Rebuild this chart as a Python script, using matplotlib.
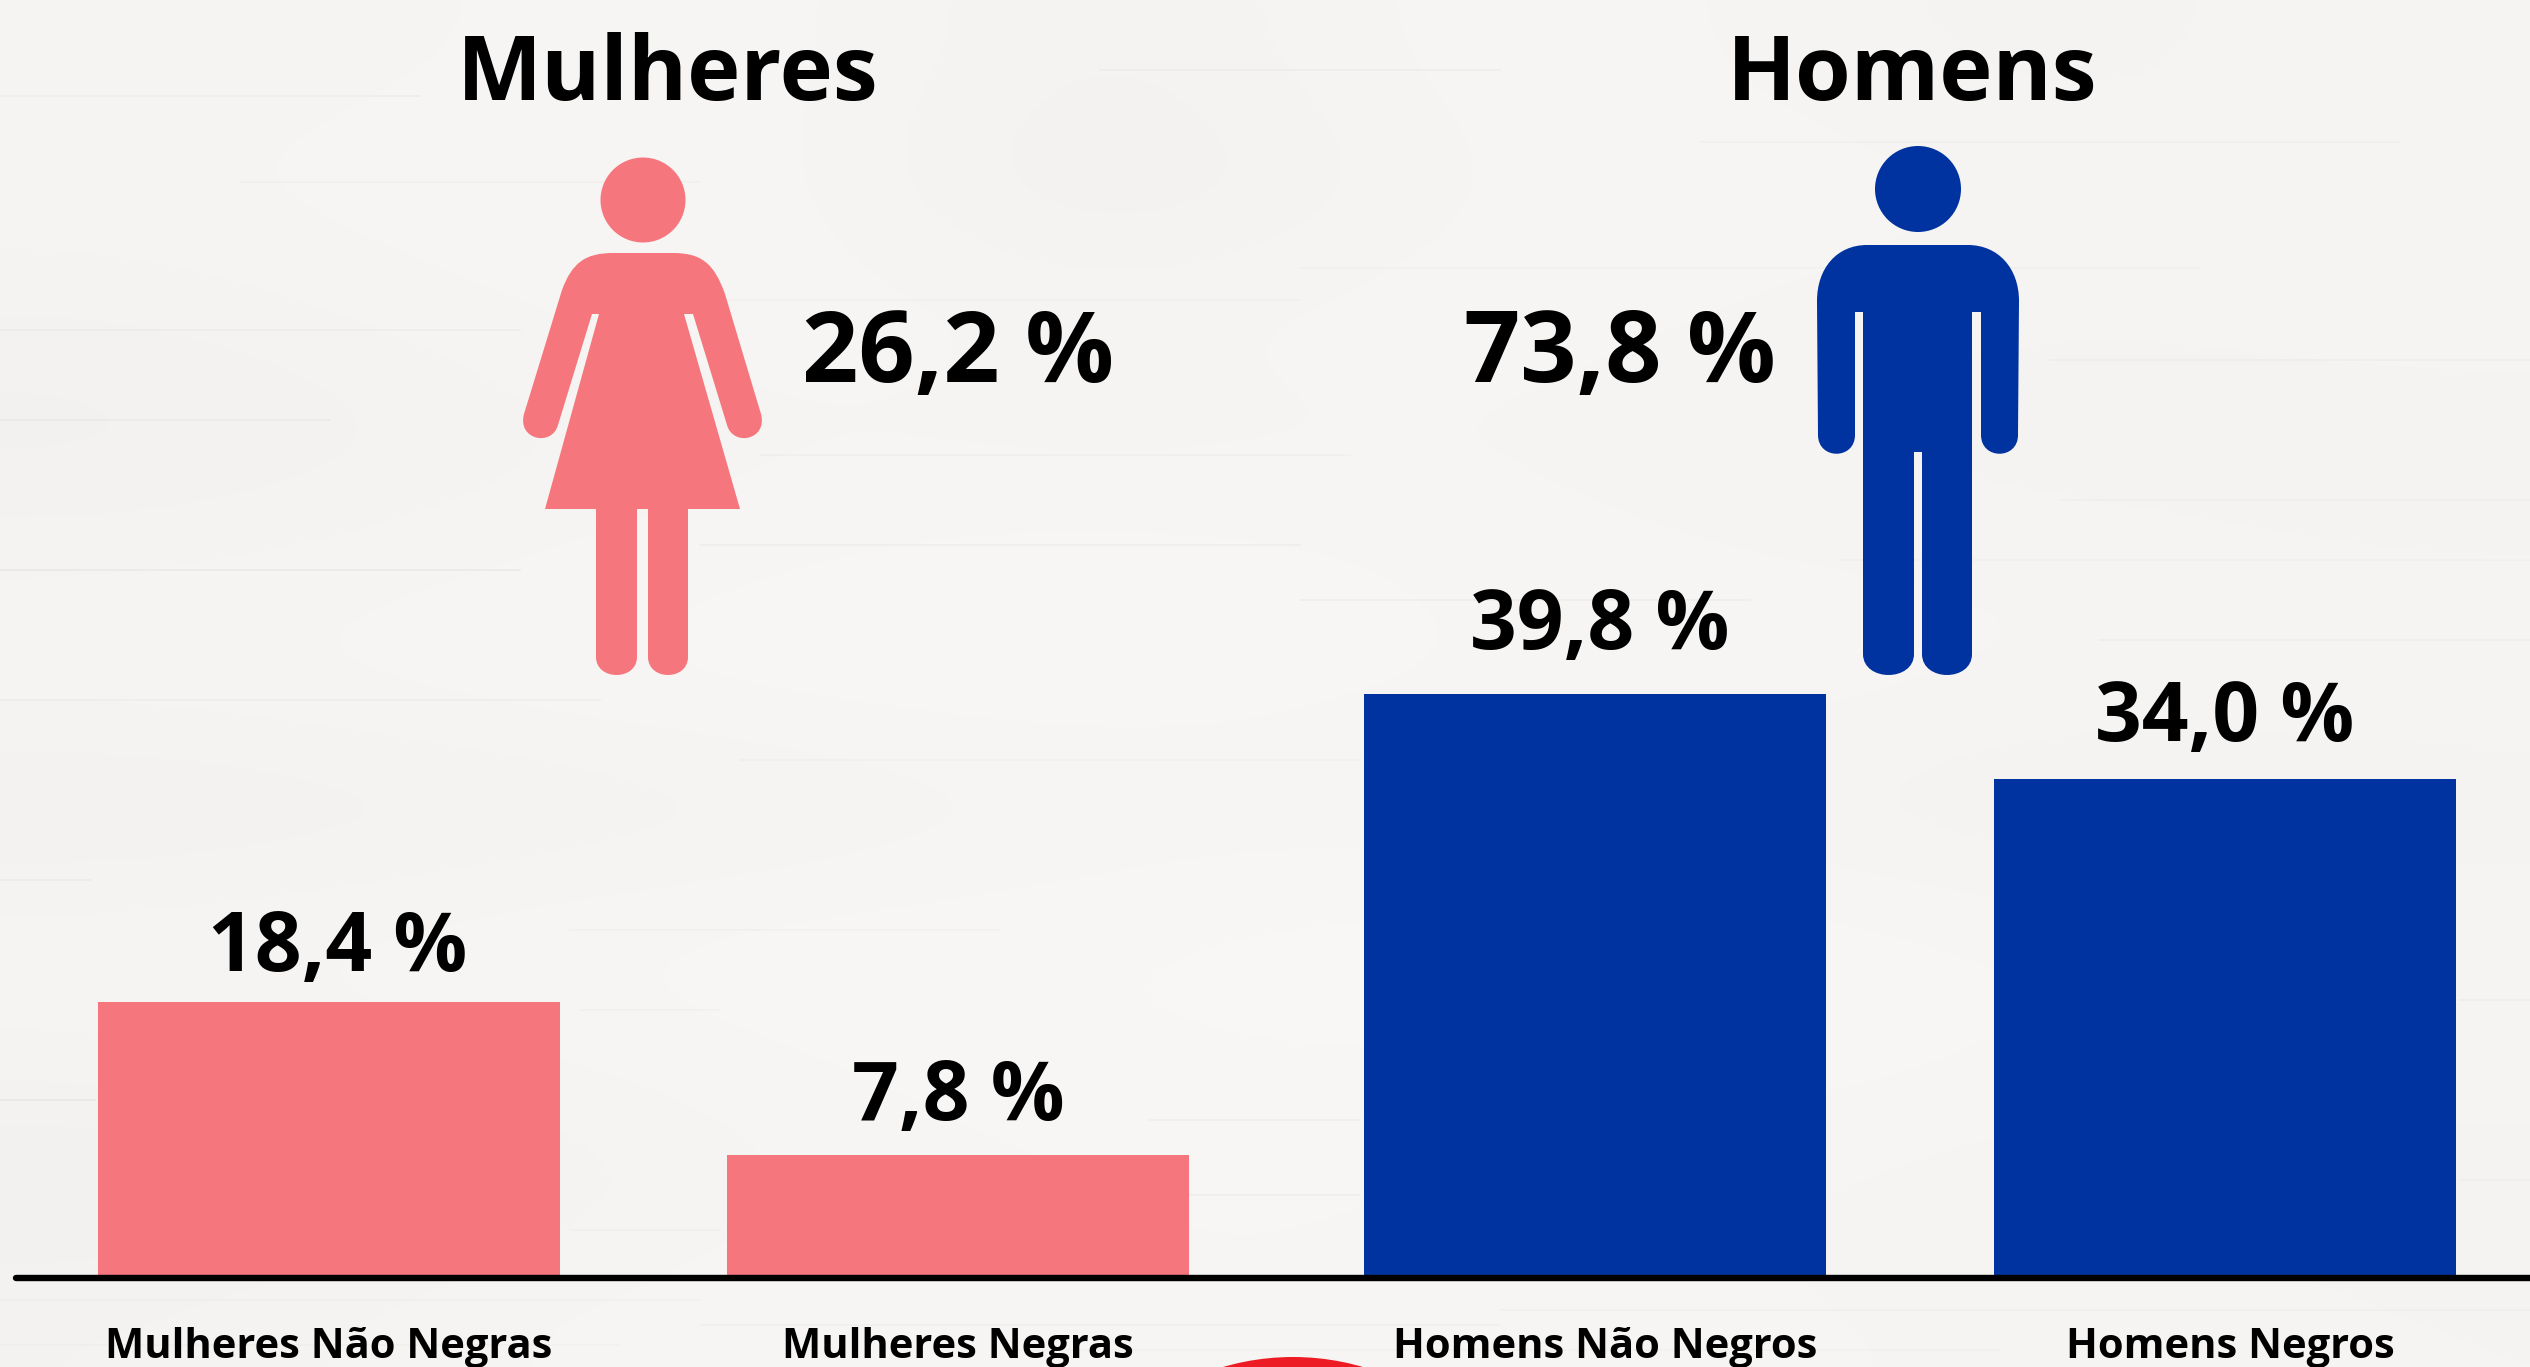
import matplotlib.pyplot as plt
import numpy as np
from matplotlib.patches import Ellipse, PathPatch, Circle
from matplotlib.path import Path

plt.rcParams['font.family'] = ['Open Sans', 'DejaVu Sans']

categories = ['Mulheres Não Negras', 'Mulheres Negras', 'Homens Não Negros', 'Homens Negros']
bar_values = [18.7, 8.2, 39.8, 34.0]
bar_labels = ['18,4 %', '7,8 %', '39,8 %', '34,0 %']
group_names = ['Mulheres', 'Homens']
group_labels = ['26,2 %', '73,8 %']

PINK = '#f5777d'
BLUE = '#0033a0'
RED = '#ed1c24'

W, H = 2530, 1367
BASE = 1275
PX_PER_UNIT = 14.6

# wood background, tones by eye (rows top to bottom, columns left to right)
wood_tones = [
    [245, 246, 247, 243, 247, 246, 244, 246],
    [246, 247, 247, 241, 246, 247, 246, 245],
    [244, 246, 247, 246, 247, 246, 245, 246],
    [242, 244, 246, 245, 246, 245, 244, 244],
    [245, 246, 247, 248, 247, 246, 246, 245],
    [246, 247, 248, 248, 247, 247, 246, 246],
    [242, 243, 244, 246, 246, 245, 243, 244],
    [246, 247, 248, 248, 249, 248, 247, 246],
    [245, 246, 247, 248, 248, 248, 247, 246],
    [241, 243, 246, 247, 247, 246, 245, 244],
    [244, 246, 247, 247, 247, 246, 246, 245],
]
# faint grain: left, right, row, alpha
grain = [
    (0, 420, 96, .05), (240, 700, 182, .04), (1100, 1500, 70, .05), (1700, 2400, 142, .04),
    (0, 520, 330, .05), (700, 1300, 300, .04), (1300, 2200, 268, .03), (2050, 2530, 360, .05),
    (0, 330, 420, .06), (760, 1350, 455, .04), (2060, 2530, 500, .04), (0, 520, 570, .07),
    (700, 1300, 545, .05), (1300, 1750, 600, .05), (2100, 2530, 640, .05), (0, 600, 700, .05),
    (740, 1360, 760, .04), (0, 90, 880, .06), (570, 1000, 930, .04), (1840, 2530, 560, .03),
    (580, 720, 1010, .04), (0, 95, 1100, .07), (1150, 1360, 1120, .05), (1145, 1360, 1195, .05),
    (0, 700, 1300, .04), (700, 1500, 1325, .04), (1500, 2530, 1310, .04), (2460, 2530, 1000, .05),
    (0, 620, 1345, .03), (1000, 2000, 1350, .03), (570, 720, 1230, .04), (2460, 2530, 1180, .04),
]

fig = plt.figure(figsize=(W / 100, H / 100), dpi=100)
ax = fig.add_axes([0, 0, 1, 1])
ax.set_xlim(0, W)
ax.set_ylim(-(H - BASE) / PX_PER_UNIT, BASE / PX_PER_UNIT)
ax.axis('off')

tones = np.array(wood_tones, dtype=float)
tones = np.dstack([tones / 255, (tones - 1) / 255, (tones - 3) / 255])
ax.imshow(tones, extent=[0, W, ax.get_ylim()[0], ax.get_ylim()[1]], aspect='auto',
          interpolation='bicubic', zorder=0)
for left, right, row, alpha in grain:
    y = (BASE - row) / PX_PER_UNIT
    ax.plot([left, right], [y, y], color='#8a7f70', lw=1.4, alpha=alpha, zorder=1)

bar_centers = [329, 958, 1595, 2225]
bar_colors = [PINK, PINK, BLUE, BLUE]
ax.bar(bar_centers, bar_values, width=462, color=bar_colors, zorder=2)
ax.plot([16, W + 10], [-3 / PX_PER_UNIT] * 2, color='black', lw=4.6,
        solid_capstyle='round', zorder=3)

label_gaps = [2.1, 2.4, 3.1, 2.6]
label_x = [338, 958, 1600, 2225]
for x, v, t, gap in zip(label_x, bar_values, bar_labels, label_gaps):
    ax.text(x, v + gap, t, ha='center', va='baseline', fontsize=59, fontweight='bold', color='black', zorder=4)

tick_x = [329, 958, 1605, 2230]
for x, c in zip(tick_x, categories):
    ax.text(x, -(1358 - BASE) / PX_PER_UNIT, c, ha='center', va='baseline', fontsize=30,
            fontweight='bold', color='black', zorder=4)

# overlay in pixel coordinates for icons and headers
ov = fig.add_axes([0, 0, 1, 1])
ov.set_xlim(0, W)
ov.set_ylim(H, 0)
ov.axis('off')
ov.patch.set_alpha(0)

ov.text(668, 100, group_names[0], ha='center', va='baseline', fontsize=65, fontweight='bold')
ov.text(1912, 100, group_names[1], ha='center', va='baseline', fontsize=65, fontweight='bold')
ov.text(958, 382, group_labels[0], ha='center', va='baseline', fontsize=71, fontweight='bold')
ov.text(1620, 382, group_labels[1], ha='center', va='baseline', fontsize=71, fontweight='bold')

M, L, K = Path.MOVETO, Path.LINETO, Path.CURVE4


def curve(c1, c2, end):
    return [(K, c1), (K, c2), (K, end)]


def icon(steps, color):
    verts = [p for _, p in steps]
    codes = [c for c, _ in steps]
    ov.add_patch(PathPatch(Path(verts, codes), facecolor=color, edgecolor='none', zorder=5))


woman = [
    (M, (613, 253)), *curve((585, 253), (572, 263), (562, 290)),
    (L, (524, 414)), *curve((517, 440), (552, 447), (558, 425)),
    (L, (592, 314)), (L, (599, 314)), (L, (545, 509)), (L, (596, 509)),
    (L, (596, 657)), *curve((596, 681), (637, 681), (637, 657)),
    (L, (637, 509)), (L, (648, 509)),
    (L, (648, 657)), *curve((648, 681), (688, 681), (688, 657)),
    (L, (688, 509)), (L, (740, 509)), (L, (684, 314)), (L, (693, 314)),
    (L, (727, 425)), *curve((733, 447), (768, 440), (761, 414)),
    (L, (725, 294)), *curve((714, 263), (701, 253), (673, 253)), (L, (613, 253)),
]
icon(woman, PINK)
ov.add_patch(Ellipse((643, 200), 85, 85, facecolor=PINK, edgecolor='none', zorder=5))

man = [
    (M, (1867, 245)), *curve((1837, 245), (1817, 268), (1817, 301)),
    (L, (1818, 435)), *curve((1818, 460), (1855, 460), (1855, 435)),
    (L, (1855, 312)), (L, (1863, 312)), (L, (1863, 654)),
    *curve((1863, 682), (1914, 682), (1914, 654)),
    (L, (1914, 452)), (L, (1922, 452)), (L, (1922, 654)),
    *curve((1922, 682), (1972, 682), (1972, 654)),
    (L, (1972, 312)), (L, (1981, 312)), (L, (1981, 435)),
    *curve((1981, 460), (2018, 460), (2018, 435)),
    (L, (2019, 301)), *curve((2019, 268), (1998, 245), (1968, 245)), (L, (1867, 245)),
]
icon(man, BLUE)
ov.add_patch(Ellipse((1918, 189), 86, 86, facecolor=BLUE, edgecolor='none', zorder=5))

# red badge cut off at the bottom edge
ov.add_patch(Circle((1293, 1607), 250, facecolor=RED, edgecolor='none', zorder=5))

fig.savefig('out.png', dpi=100)
